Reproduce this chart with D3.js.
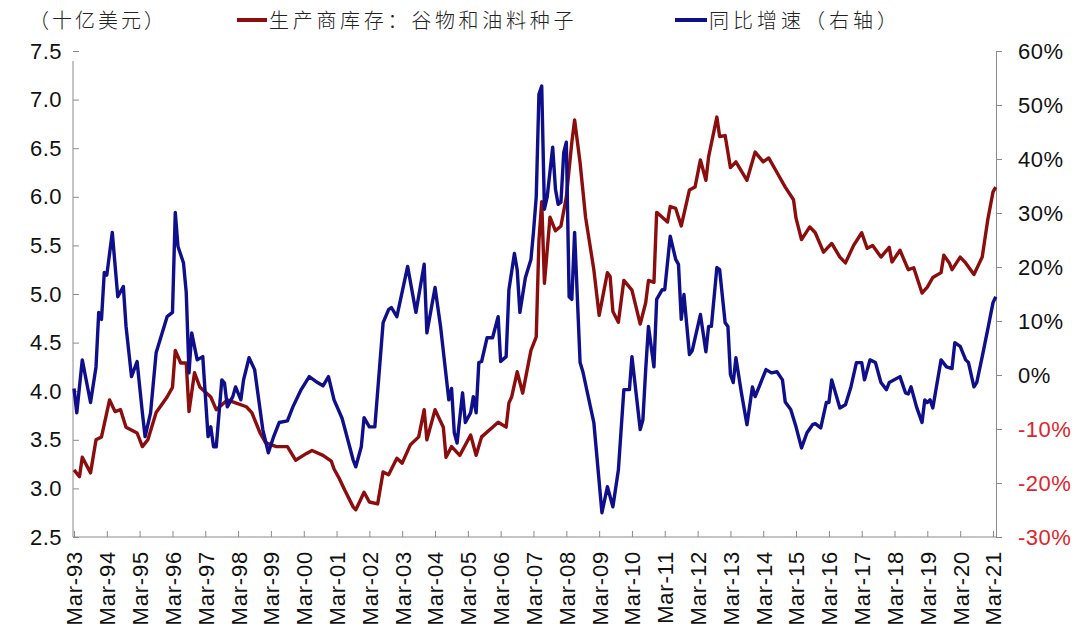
<!DOCTYPE html>
<html><head><meta charset="utf-8">
<script src="https://cdn.jsdelivr.net/npm/d3@7"></script>
<style>body{margin:0;background:#fff}</style>
</head><body><svg id="c" width="1080" height="639"></svg>
<script>
// ---- data ----
const redDates = ["1993-03","1993-05","1993-06","1993-09","1993-11","1994-01","1994-04","1994-06","1994-08","1994-10","1995-02","1995-04","1995-06","1995-09","1996-01","1996-03","1996-04","1996-06","1996-08","1996-09","1996-11","1997-01","1997-05","1997-07","1997-11","1998-02","1998-06","1998-08","1998-11","1999-01","1999-05","1999-09","1999-12","2000-04","2000-06","2000-10","2001-01","2001-02","2001-04","2001-06","2001-09","2001-10","2001-11","2002-01","2002-03","2002-06","2002-08","2002-10","2003-01","2003-03","2003-06","2003-09","2003-11","2003-12","2004-03","2004-06","2004-07","2004-09","2004-12","2005-04","2005-06","2005-08","2005-12","2006-02","2006-05","2006-06","2006-07","2006-09","2006-11","2007-02","2007-04","2007-05","2007-06","2007-07","2007-09","2007-11","2008-01","2008-03","2008-05","2008-06","2008-08","2008-10","2009-01","2009-03","2009-06","2009-07","2009-08","2009-10","2009-12","2010-03","2010-06","2010-08","2010-09","2010-11","2010-12","2011-04","2011-05","2011-07","2011-09","2011-12","2012-02","2012-04","2012-06","2012-07","2012-10","2012-11","2013-01","2013-03","2013-05","2013-09","2013-12","2014-03","2014-05","2014-08","2014-11","2015-02","2015-03","2015-05","2015-08","2015-10","2016-01","2016-04","2016-07","2016-09","2016-12","2017-03","2017-05","2017-07","2017-10","2018-01","2018-02","2018-05","2018-08","2018-10","2019-01","2019-03","2019-05","2019-08","2019-09","2019-11","2019-12","2020-03","2020-05","2020-08","2020-10","2020-11","2021-01","2021-03","2021-04"];
const redValues = [3.19,3.12,3.32,3.16,3.50,3.53,3.91,3.79,3.81,3.63,3.57,3.43,3.50,3.78,3.94,4.04,4.42,4.29,4.29,3.79,4.19,4.04,3.94,3.81,3.91,3.88,3.84,3.78,3.57,3.47,3.43,3.43,3.29,3.36,3.39,3.34,3.28,3.20,3.10,2.98,2.81,2.78,2.84,2.96,2.86,2.84,3.17,3.14,3.31,3.26,3.45,3.53,3.81,3.50,3.81,3.63,3.32,3.43,3.34,3.55,3.34,3.53,3.63,3.68,3.63,3.88,3.94,4.20,3.98,4.42,4.56,5.55,5.95,5.11,5.79,5.65,5.70,6.00,6.56,6.79,6.35,5.79,5.25,4.78,5.22,5.18,4.82,4.71,5.14,5.04,4.69,4.91,5.14,5.12,5.84,5.74,5.90,5.88,5.70,6.07,6.10,6.38,6.17,6.41,6.82,6.62,6.63,6.30,6.36,6.17,6.46,6.36,6.40,6.25,6.10,5.97,5.78,5.56,5.69,5.63,5.43,5.52,5.38,5.32,5.50,5.63,5.47,5.50,5.38,5.48,5.33,5.45,5.25,5.27,5.01,5.07,5.17,5.22,5.40,5.32,5.25,5.38,5.32,5.20,5.32,5.38,5.76,6.05,6.10];

const blueDates = ["1993-03","1993-04","1993-06","1993-09","1993-11","1993-12","1994-01","1994-02","1994-03","1994-05","1994-07","1994-09","1994-10","1994-12","1995-02","1995-04","1995-05","1995-07","1995-09","1996-01","1996-03","1996-04","1996-05","1996-07","1996-08","1996-09","1996-10","1996-12","1997-02","1997-04","1997-05","1997-06","1997-07","1997-09","1997-10","1997-11","1998-01","1998-02","1998-04","1998-05","1998-07","1998-09","1998-12","1999-02","1999-04","1999-06","1999-09","1999-11","2000-02","2000-05","2000-08","2000-10","2000-12","2001-02","2001-05","2001-07","2001-09","2001-10","2001-12","2002-01","2002-03","2002-05","2002-08","2002-10","2002-11","2003-01","2003-05","2003-08","2003-11","2003-12","2004-03","2004-05","2004-08","2004-09","2004-10","2004-11","2005-01","2005-02","2005-04","2005-05","2005-06","2005-07","2005-08","2005-10","2005-12","2006-02","2006-03","2006-05","2006-06","2006-08","2006-09","2006-10","2006-12","2007-02","2007-03","2007-04","2007-05","2007-06","2007-07","2007-08","2007-10","2007-11","2007-12","2008-01","2008-02","2008-03","2008-04","2008-05","2008-06","2008-08","2008-09","2009-01","2009-04","2009-06","2009-08","2009-10","2009-12","2010-02","2010-03","2010-06","2010-07","2010-08","2010-09","2010-11","2010-12","2011-02","2011-03","2011-05","2011-07","2011-08","2011-09","2011-10","2011-12","2012-01","2012-04","2012-06","2012-07","2012-08","2012-10","2012-11","2013-01","2013-02","2013-03","2013-04","2013-05","2013-07","2013-09","2013-11","2013-12","2014-04","2014-06","2014-08","2014-10","2014-11","2015-01","2015-03","2015-05","2015-07","2015-09","2015-10","2015-12","2016-02","2016-03","2016-04","2016-07","2016-09","2016-11","2017-01","2017-03","2017-04","2017-06","2017-08","2017-10","2017-12","2018-01","2018-05","2018-07","2018-08","2018-09","2018-11","2019-01","2019-02","2019-03","2019-04","2019-05","2019-08","2019-10","2019-12","2020-01","2020-03","2020-05","2020-06","2020-08","2020-09","2020-11","2021-01","2021-03","2021-04"];
const blueValues = [-2.5,-7.0,2.8,-5.1,1.5,11.6,10.3,19.0,18.5,26.4,14.5,16.4,9.0,-0.3,2.5,-7.0,-11.4,-7.0,4.1,10.8,11.6,30.1,23.8,20.8,15.3,0.4,7.8,2.8,3.4,-11.4,-9.6,-13.3,-13.3,-0.9,-1.5,-5.9,-4.0,-2.2,-4.6,-0.9,3.2,1.0,-10.1,-14.4,-11.4,-8.8,-8.5,-5.9,-2.7,-0.3,-1.4,-2.0,-0.3,-4.6,-8.0,-11.8,-15.7,-17.0,-13.3,-7.9,-9.6,-9.6,9.7,12.1,12.5,10.8,20.1,11.6,20.5,7.8,16.2,9.0,-4.6,-2.5,-10.7,-12.6,-3.3,-8.8,-7.0,-4.0,-7.0,2.3,2.5,6.9,6.9,10.8,2.5,3.4,15.8,22.5,19.5,11.6,18.0,21.4,26.4,33.0,52.0,53.5,30.7,33.0,42.2,34.4,31.6,32.0,41.2,43.1,14.5,14.0,26.4,2.3,0.6,-8.8,-25.5,-20.7,-24.4,-17.6,-2.7,-2.7,3.4,-10.1,-8.3,1.0,9.0,1.5,14.0,15.8,15.8,25.7,21.4,20.5,10.3,14.9,3.8,4.5,11.2,4.3,9.0,9.0,19.9,19.5,9.7,9.0,0.1,-1.4,3.2,-3.3,-9.2,-2.2,-4.0,1.0,0.4,0.6,-0.9,-5.0,-6.4,-9.6,-13.5,-10.7,-9.2,-9.0,-9.8,-5.1,-5.1,-0.9,-6.1,-5.5,-2.2,2.3,2.3,-0.9,2.8,2.3,-1.4,-2.7,-1.4,-0.3,-3.3,-3.5,-2.2,-5.9,-8.8,-4.6,-5.1,-4.6,-6.1,2.8,1.5,1.2,6.0,5.3,2.8,2.3,-2.2,-1.4,3.4,8.4,13.4,14.5];

const xTickYears = d3.range(1993, 2022);
const leftTicks = [2.5,3.0,3.5,4.0,4.5,5.0,5.5,6.0,6.5,7.0,7.5];
const rightTicks = [-30,-20,-10,0,10,20,30,40,50,60];
const unitLabel = "（十亿美元）";
const redName = "生产商库存：谷物和油料种子";
const blueName = "同比增速（右轴）";

// ---- drawing ----
const parse = d3.timeParse("%Y-%m");
const red = redDates.map((d,i)=>({date:parse(d), v:redValues[i]}));
const blue = blueDates.map((d,i)=>({date:parse(d), v:blueValues[i]}));

const svg = d3.select("#c");
svg.append("rect").attr("width",1080).attr("height",639).attr("fill","#fff");

const x = d3.scaleTime().domain([parse("1993-03"), parse("2021-03")]).range([74, 993]);
const yL = d3.scaleLinear().domain([2.5, 7.5]).range([537, 51]);
const yR = d3.scaleLinear().domain([-30, 60]).range([537, 51]);

const axisColor = "#8a8a8a";
const numFont = "'Liberation Sans', Arial, sans-serif";
const cjkFont = "'Noto Sans CJK SC', sans-serif";

// left axis
const gL = svg.append("g").attr("transform","translate(73,0)")
  .call(d3.axisLeft(yL).tickValues(leftTicks).tickSize(-6).tickSizeOuter(0).tickPadding(11).tickFormat(d3.format(".1f")));
gL.select(".domain").remove();
gL.append("line").attr("x1",0).attr("x2",0).attr("y1",61).attr("y2",537).attr("stroke",axisColor);
gL.selectAll(".tick line").attr("stroke",axisColor);
gL.selectAll(".tick text").attr("font-family",numFont).attr("font-size",22).attr("fill","#111").attr("letter-spacing","0.5px");

// right axis
const gR = svg.append("g").attr("transform","translate(996,0)")
  .call(d3.axisRight(yR).tickValues(rightTicks).tickSize(6).tickSizeOuter(0).tickPadding(16).tickFormat(d=>d+"%"));
gR.select(".domain").attr("stroke",axisColor);
gR.selectAll(".tick line").attr("stroke",axisColor);
gR.selectAll(".tick text").attr("font-family",numFont).attr("font-size",22).attr("letter-spacing","0.5px")
  .attr("fill", d => d < 0 ? "#e0242c" : "#111");

// bottom axis
const gB = svg.append("g").attr("transform","translate(0,537)")
  .call(d3.axisBottom(x).tickValues(xTickYears.map(y=>parse(y+"-03"))).tickSize(-6).tickSizeOuter(0).tickPadding(8)
    .tickFormat(d3.timeFormat("%b-%y")));
gB.select(".domain").attr("stroke",axisColor).attr("d","M73,0H996");
gB.selectAll(".tick line").attr("stroke",axisColor);
gB.selectAll(".tick text")
  .attr("font-family",numFont).attr("font-size",22).attr("fill","#111").attr("letter-spacing","0.8px")
  .attr("transform","rotate(-90)").attr("text-anchor","end")
  .attr("x",-14).attr("y",0).attr("dy","0.36em");

// lines
const lineL = d3.line().x(d=>x(d.date)).y(d=>yL(d.v));
const lineR = d3.line().x(d=>x(d.date)).y(d=>yR(d.v));
svg.append("path").datum(red).attr("d",lineL).attr("fill","none").attr("stroke","#8c0d0d").attr("stroke-width",3.4).attr("stroke-linejoin","round");
svg.append("path").datum(blue).attr("d",lineR).attr("fill","none").attr("stroke","#0f0f8c").attr("stroke-width",3.4).attr("stroke-linejoin","round");

// header + legend
svg.append("text").attr("x",29).attr("y",28).text(unitLabel)
  .attr("font-family",cjkFont).attr("font-size",20).attr("font-weight",300).attr("fill","#222").attr("letter-spacing","3px");
svg.append("line").attr("x1",237).attr("x2",267).attr("y1",20).attr("y2",20).attr("stroke","#8c0d0d").attr("stroke-width",4);
svg.append("text").attr("x",269).attr("y",28).text(redName)
  .attr("font-family",cjkFont).attr("font-size",20).attr("font-weight",300).attr("fill","#222").attr("letter-spacing","3.7px");
svg.append("line").attr("x1",675).attr("x2",707).attr("y1",20).attr("y2",20).attr("stroke","#0f0f8c").attr("stroke-width",4);
svg.append("text").attr("x",709).attr("y",28).text(blueName)
  .attr("font-family",cjkFont).attr("font-size",20).attr("font-weight",300).attr("fill","#222").attr("letter-spacing","4px");
</script></body></html>
